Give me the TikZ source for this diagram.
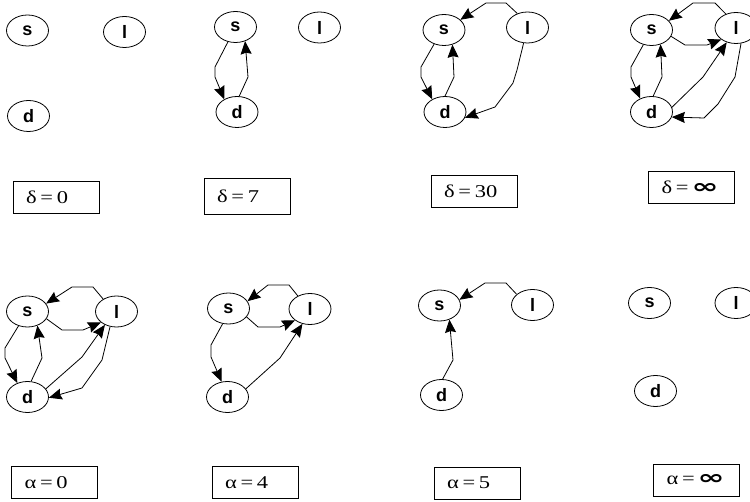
\documentclass[tikz,border=0pt]{standalone}
\usepackage{fontspec}
\usepackage{graphicx}
\setmainfont{Liberation Serif}
\setsansfont{Liberation Sans}
\newfontfamily\infont{DejaVu Sans}
\usetikzlibrary{shapes.geometric,arrows.meta}
\newcommand{\infsym}{{\infont\bfseries\scalebox{1.8}[1.1]{∞}}}
\newcommand{\wideval}[1]{\scalebox{1.25}[1]{#1}}
\begin{document}
\begin{tikzpicture}[
    x=1pt, y=-1pt,
    vert/.style={draw, ellipse, line width=0.8pt, minimum width=42pt, minimum height=31pt, inner sep=0pt,
      font=\sffamily\bfseries\fontsize{18}{18}\selectfont},
    arc/.style={draw, -{Stealth[length=13pt,width=11pt,inset=1.5pt]}, line width=0.8pt, line join=round},
    valbox/.style={draw, line width=0.8pt, minimum width=86pt, minimum height=32pt, inner xsep=0pt,
      text width=60pt, align=left, font=\fontsize{18}{18}\selectfont}
  ]
  \useasboundingbox (0,0) rectangle (750,502);

  \node[vert] (s1) at (27.5,30.5) {s};
  \node[vert] (l1) at (124.5,32) {l};
  \node[vert] (d1) at (28.5,116) {d};
  \node[valbox] (lab1) at (56,197) {\wideval{δ\,=\,0}};

  \node[vert] (s2) at (235.5,27) {s};
  \node[vert] (l2) at (319.5,27.5) {l};
  \node[vert] (d2) at (237,112) {d};
  \node[valbox, minimum height=36pt] (lab2) at (247,196.5) {\wideval{δ\,=\,7}};
  \draw[arc] (s2.-117) -- (215,67) -- (215,77) -- (d2.135);
  \draw[arc] (d2.82) -- (248,77) -- (s2.-56);

  \node[vert] (s3) at (444,30) {s};
  \node[vert] (l3) at (527.5,27.5) {l};
  \node[vert] (d3) at (445,112) {d};
  \node[valbox] (lab3) at (474,191) {\wideval{δ\,=\,30}};
  \draw[arc] (l3.126) -- (506,3) -- (486,3) -- (s3.32);
  \draw[arc] (l3.-104) -- (517,70) -- (513,83) -- (495,107) -- (d3.-16);
  \draw[arc] (s3.-125) -- (421,67) -- (421,77) -- (d3.135);
  \draw[arc] (d3.90) -- (454,77) -- (s3.-60);

  \node[vert] (s4) at (651.5,30) {s};
  \node[vert] (l4) at (736,28) {l};
  \node[vert] (d4) at (651.5,112) {d};
  \node[valbox] (lab4) at (691.5,187.5) {\wideval{δ\,=}\,\infsym};
  \draw[arc] (l4.126) -- (715,3) -- (693,3) -- (s4.28);
  \draw[arc] (s4.-18) -- (685,45) -- (707,45) -- (l4.-142);
  \draw[arc] (d4.13) -- (703,77) -- (l4.-123);
  \draw[arc] (l4.-72) -- (735,77) -- (718,104) -- (704,118) -- (d4.-14);
  \draw[arc] (s4.-119) -- (631,67) -- (631,77) -- (d4.130);
  \draw[arc] (d4.84) -- (662,77) -- (s4.-58);

  \node[vert] (s5) at (27.5,311.5) {s};
  \node[vert] (l5) at (116.5,311.5) {l};
  \node[vert] (d5) at (27.5,397) {d};
  \node[valbox] (lab5) at (54.5,482.5) {\wideval{α\,=\,0}};
  \draw[arc] (l5.137) -- (93,287) -- (72,287) -- (s5.23);
  \draw[arc] (s5.-21) -- (62,330) -- (83,330) -- (l5.-145);
  \draw[arc] (d5.24) -- (82,357) -- (l5.-131);
  \draw[arc] (l5.-113) -- (102,360) -- (82,388) -- (d5.-2);
  \draw[arc] (s5.-122) -- (5,348) -- (5,358) -- (d5.126);
  \draw[arc] (d5.77) -- (42,358) -- (s5.-55);

  \node[vert] (s6) at (228.5,308.5) {s};
  \node[vert] (l6) at (310,309) {l};
  \node[vert] (d6) at (227.5,397) {d};
  \node[valbox] (lab6) at (255,482.5) {\wideval{α\,=\,4}};
  \draw[arc] (l6.133) -- (289,285) -- (268,285) -- (s6.21);
  \draw[arc] (s6.-25) -- (258,327) -- (280,327) -- (l6.-143);
  \draw[arc] (d6.24) -- (280,358) -- (l6.-117);
  \draw[arc] (s6.-111) -- (211,345) -- (211,357) -- (d6.111);

  \node[vert] (s7) at (439.5,305.5) {s};
  \node[vert] (l7) at (532.5,305) {l};
  \node[vert] (d7) at (441.5,395) {d};
  \node[valbox] (lab7) at (477,483) {\wideval{α\,=\,5}};
  \draw[arc] (l7.146) -- (506,283) -- (485,283) -- (s7.16);
  \draw[arc] (d7.86) -- (453,360) -- (s7.-55);

  \node[vert] (s8) at (649.5,303) {s};
  \node[vert] (l8) at (736,303) {l};
  \node[vert] (d8) at (655.5,391) {d};
  \node[valbox] (lab8) at (696.5,480) {\wideval{α\,=}\,\infsym};
\end{tikzpicture}
\end{document}
